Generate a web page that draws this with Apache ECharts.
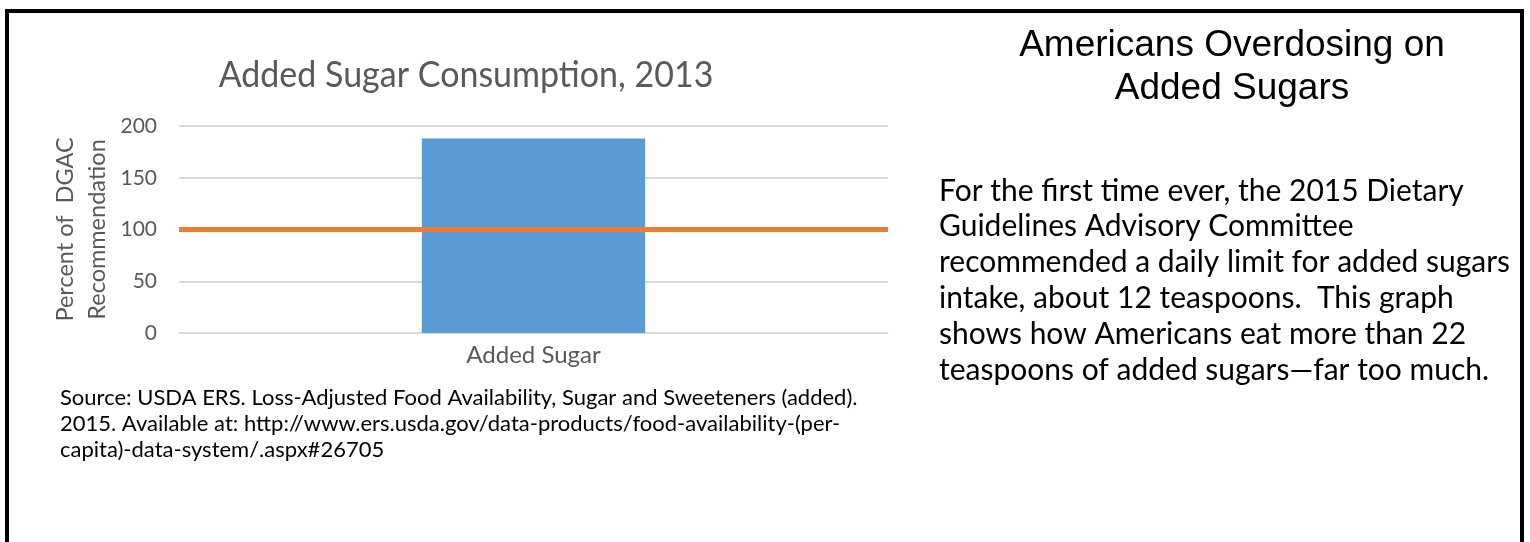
<!DOCTYPE html>
<html>
<head>
<meta charset="utf-8">
<script src="https://cdn.jsdelivr.net/npm/echarts@6/dist/echarts.min.js"></script>
<style>
html,body{margin:0;padding:0;background:#fff;}
#chart{width:1530px;height:542px;}
</style>
</head>
<body>
<div id="chart"></div>
<script>
const categories = ['Added Sugar'];
const consumptionValues = [188];
const recommendationLevel = 100;
const yTicks = { min: 0, max: 200, interval: 50 };
const chartTitle = 'Added Sugar Consumption, 2013';
const yAxisName = 'Percent of  DGAC\nRecommendation';
const sideTitle = ['Americans Overdosing on', 'Added Sugars'];
const bodyLines = [
  'For the first time ever, the 2015 Dietary',
  'Guidelines Advisory Committee',
  'recommended a daily limit for added sugars',
  'intake, about 12 teaspoons.  This graph',
  'shows how Americans eat more than 22',
  'teaspoons of added sugars\u2014far too much.'
];
const sourceLines = [
  'Source: USDA ERS. Loss-Adjusted Food Availability, Sugar and Sweeteners (added).',
  '2015. Available at: http://www.ers.usda.gov/data-products/food-availability-(per-',
  'capita)-data-system/.aspx#26705'
];

const FONT = 'Lato, "Open Sans", sans-serif';
const chart = echarts.init(document.getElementById('chart'), null, {renderer: 'canvas'});

const graphics = [
  {type: 'rect', shape: {x: 7, y: 11, width: 1515, height: 600}, style: {fill: 'none', stroke: '#000', lineWidth: 4}, z: 10},
  {type: 'text', x: 466, y: 75, scaleY: 1.08, style: {text: chartTitle, fill: '#595959', font: '400 34px ' + FONT, textAlign: 'center', textVerticalAlign: 'middle'}},
  {type: 'text', x: 1232, y: 46, style: {text: sideTitle[0], fill: '#000', font: '400 37px "Liberation Sans", Arial, sans-serif', textAlign: 'center', textVerticalAlign: 'middle'}},
  {type: 'text', x: 1232, y: 89, style: {text: sideTitle[1], fill: '#000', font: '400 37px "Liberation Sans", Arial, sans-serif', textAlign: 'center', textVerticalAlign: 'middle'}}
];
bodyLines.forEach((t, i) => {
  graphics.push({type: 'text', x: 939, y: 191 + i * 35.8, style: {text: t, fill: '#000', font: '400 30px ' + FONT, textAlign: 'left', textVerticalAlign: 'middle'}});
});
sourceLines.forEach((t, i) => {
  graphics.push({type: 'text', x: 60, y: 398 + i * 26, style: {text: t, fill: '#000', font: '400 22px ' + FONT, textAlign: 'left', textVerticalAlign: 'middle'}});
});

chart.setOption({
  animation: false,
  backgroundColor: '#fff',
  grid: {left: 179, right: 642, top: 126, bottom: 209, containLabel: false},
  xAxis: {
    type: 'category',
    data: categories,
    axisLine: {show: true, lineStyle: {color: '#d9d9d9', width: 1}},
    axisTick: {show: false},
    axisLabel: {color: '#595959', fontSize: 24, fontFamily: FONT, margin: 10}
  },
  yAxis: {
    type: 'value',
    min: yTicks.min, max: yTicks.max, interval: yTicks.interval,
    name: yAxisName,
    nameLocation: 'middle',
    nameGap: 66,
    nameRotate: 90,
    nameTextStyle: {color: '#595959', fontSize: 23.5, fontFamily: FONT, lineHeight: 32},
    axisLine: {show: false},
    axisTick: {show: false},
    axisLabel: {color: '#595959', fontSize: 21, fontFamily: FONT, margin: 22},
    splitLine: {lineStyle: {color: '#d9d9d9', width: 2}}
  },
  series: [{
    type: 'bar',
    data: consumptionValues,
    barWidth: '31.5%',
    itemStyle: {color: '#5b9bd5'},
    markLine: {
      silent: true,
      symbol: 'none',
      label: {show: false},
      lineStyle: {color: '#ed7d31', width: 5, type: 'solid'},
      data: [{yAxis: recommendationLevel}]
    }
  }],
  graphic: graphics
});
</script>
</body>
</html>
